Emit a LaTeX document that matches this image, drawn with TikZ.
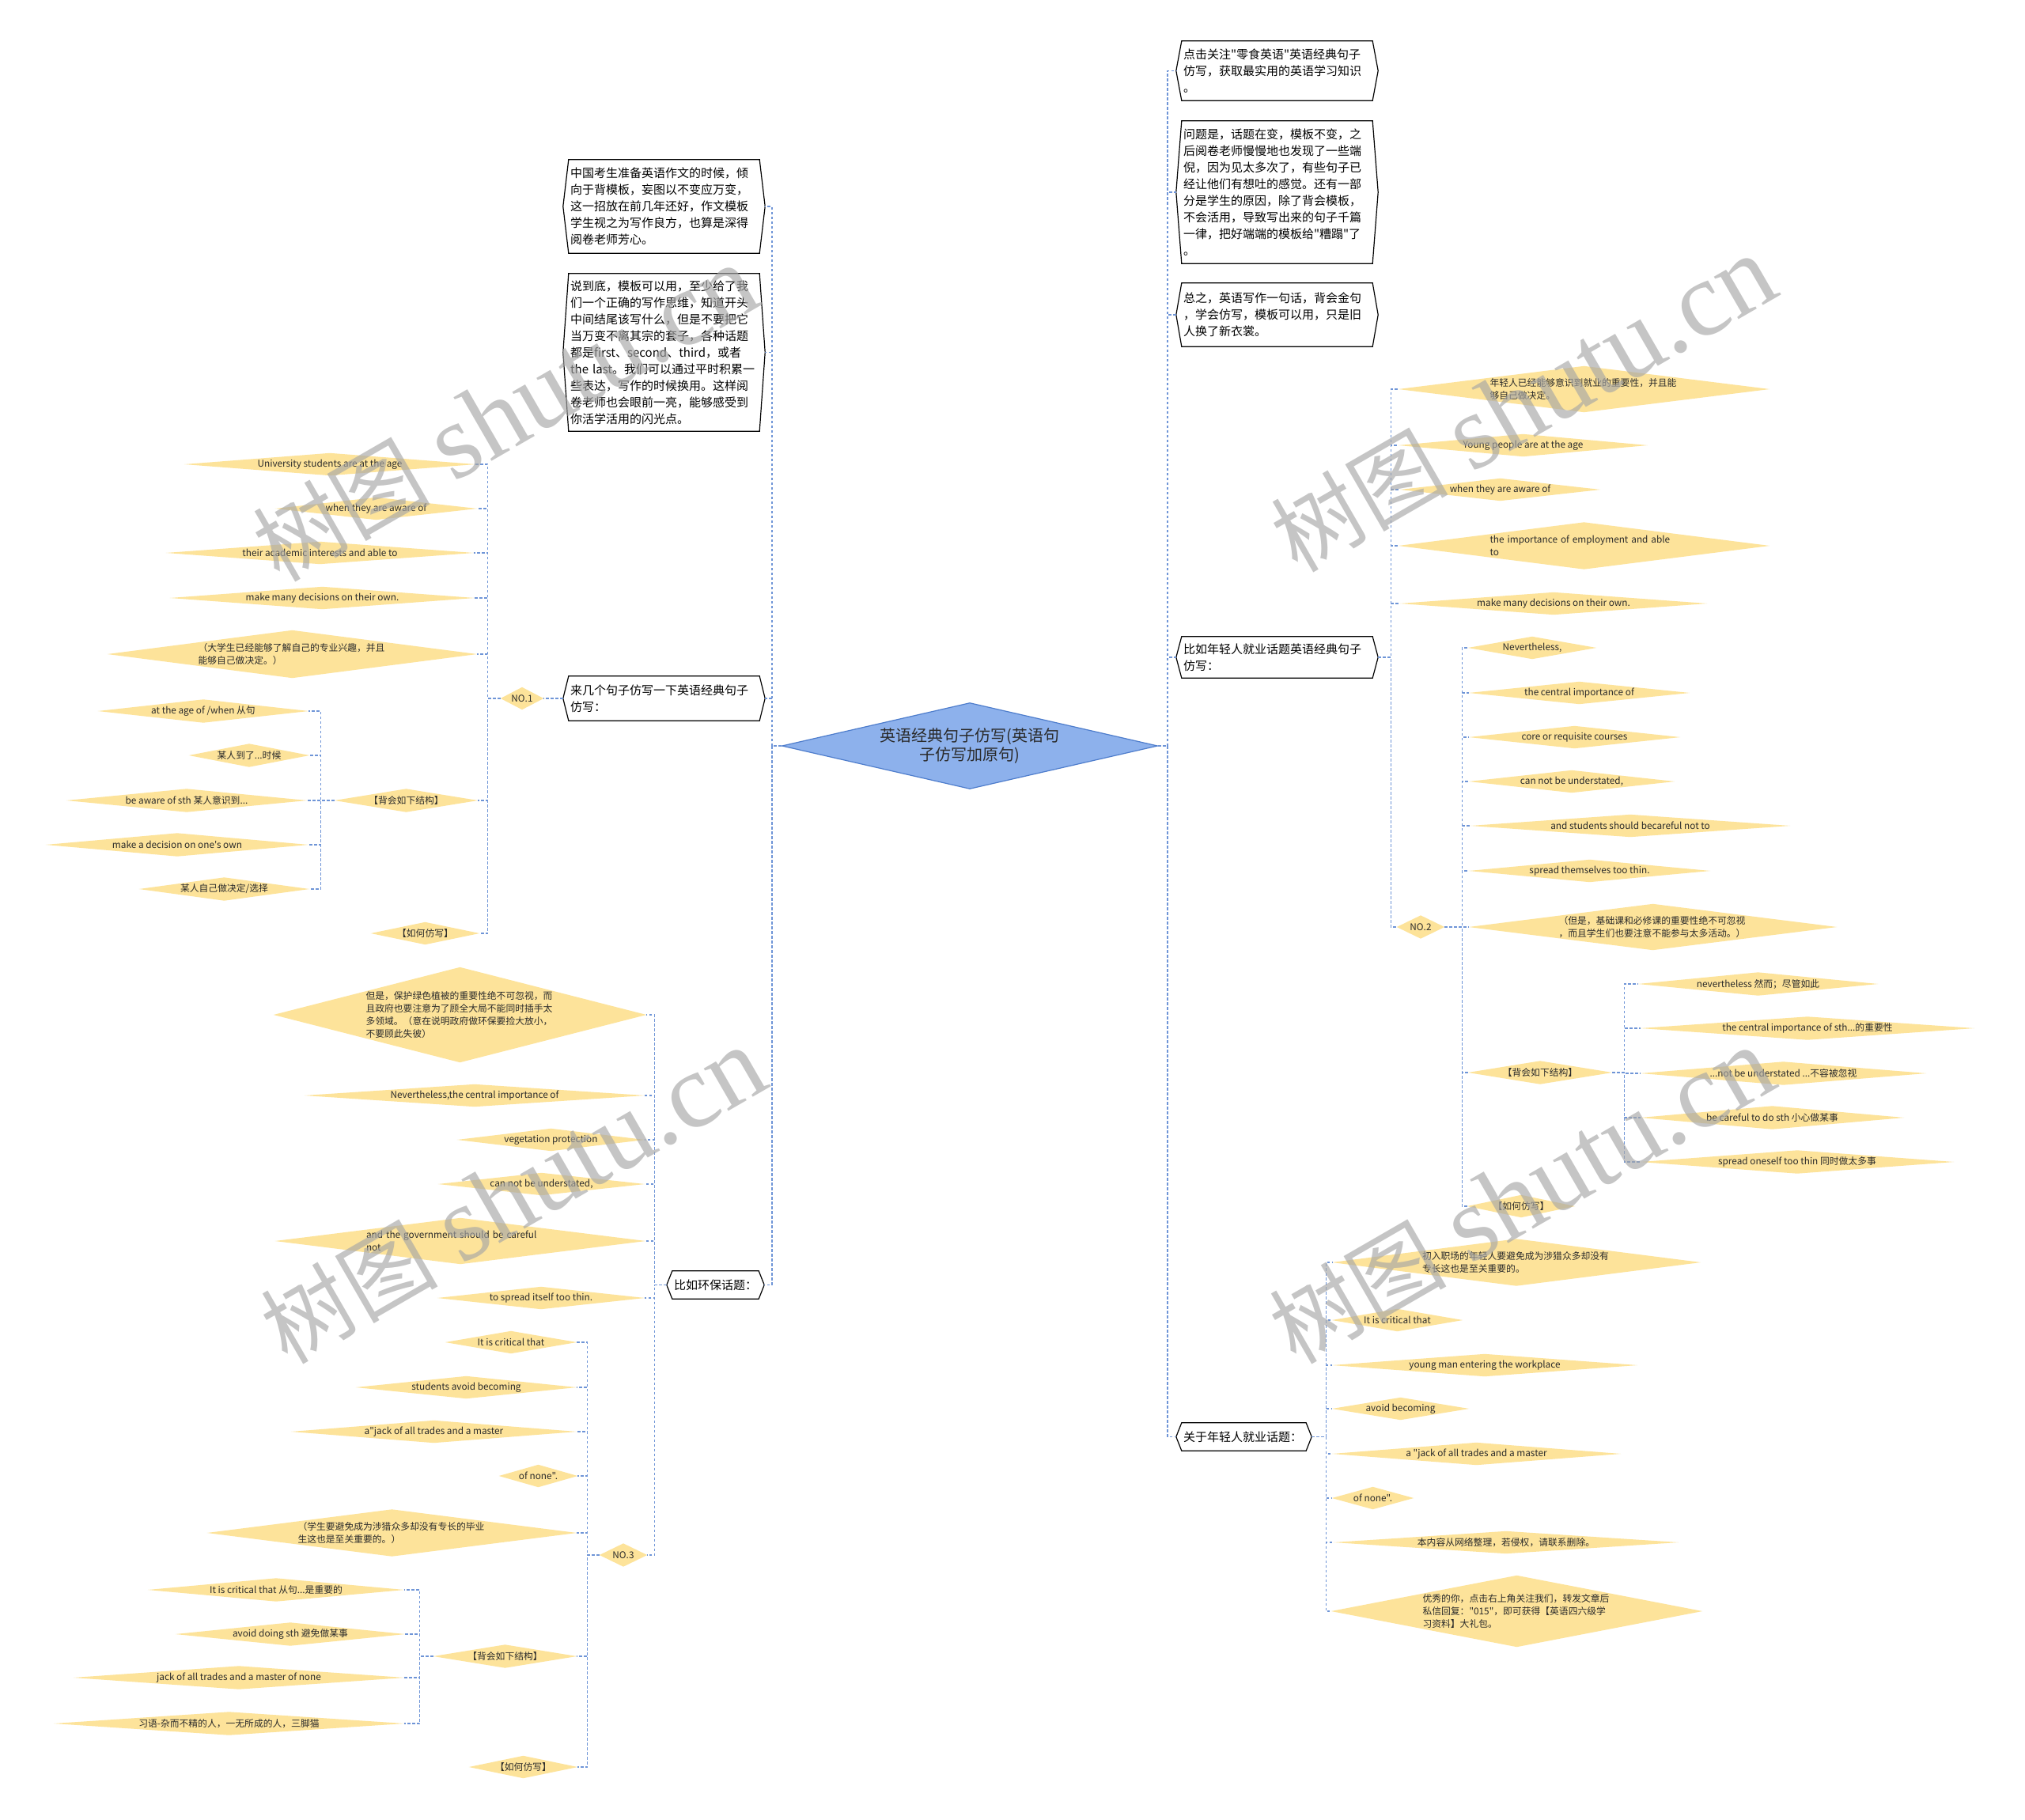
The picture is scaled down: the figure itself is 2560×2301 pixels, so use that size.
\documentclass[tikz,border=0pt]{standalone}
\usepackage{fontspec}
\setmainfont{Noto Sans CJK SC}[Ligatures=TeXOff]
\newfontfamily\wmserif{Liberation Serif}[Ligatures=TeXOff]
\usetikzlibrary{shapes.geometric,backgrounds}
\definecolor{ycol}{HTML}{FDE39A}
\definecolor{lnk}{HTML}{6F95D7}
\definecolor{rootfill}{HTML}{8DB1EC}
\definecolor{rootline}{HTML}{4E7DCC}
\definecolor{txtc}{HTML}{2A2A2A}
\tikzset{
  yd/.style={rectangle, inner sep=0pt, align=left, text=txtc, font=\fontsize{11.8pt}{15.8pt}\selectfont},
  hexb/.style={rectangle, inner sep=0pt, align=left, text=black, font=\fontsize{15pt}{21pt}\selectfont},
  hexline/.style={draw=black, line width=1.2pt, line join=miter},
  conn/.style={draw=lnk, line width=1.3pt, dash pattern=on 3.5pt off 2.5pt},
  wmc/.style={text=black!35, opacity=0.65, inner sep=0pt, rotate=30, anchor=base west, font=\fontsize{112pt}{112pt}\selectfont},
  wms/.style={wmc, font=\wmserif\fontsize{135pt}{135pt}\selectfont}
}
\newcommand\hexbox[6]{%
  \pgfmathsetmacro\hbw{#3-#2}%
  \pgfmathsetmacro\hbh{#5-#4}%
  \pgfmathsetmacro\hbt{#3-#2-18}%
  \pgfmathsetmacro\hbx{(#2+#3)/2}%
  \pgfmathsetmacro\hby{(#4+#5)/2}%
  \node[hexb, minimum width=\hbw pt, minimum height=\hbh pt, text width=\hbt pt] (#1) at (\hbx,\hby) {#6};
  \draw[hexline] ([xshift=7pt]#1.north west) -- ([xshift=-7pt]#1.north east) -- (#1.east) -- ([xshift=-7pt]#1.south east) -- ([xshift=7pt]#1.south west) -- (#1.west) -- cycle;}
\newcommand\dm[7][]{%
  \pgfmathsetmacro\dmw{#4-#3}%
  \pgfmathsetmacro\dmx{(#3+#4)/2}%
  \node[yd, minimum width=\dmw pt, minimum height=#6pt, #1] (#2) at (\dmx,#5) {#7};
  \begin{scope}[on background layer]
    \fill[ycol] (#2.west) -- (#2.north) -- (#2.east) -- (#2.south) -- cycle;
  \end{scope}}
\newcommand\lk[3]{\foreach \cn in {#3}{\draw[conn] (#1.west) -- ++(-#2,0) |- (\cn.east);}}
\newcommand\rk[3]{\foreach \cn in {#3}{\draw[conn] (#1.east) -- ++(#2,0) |- (\cn.west);}}
% watermark: #1 prefix, #2,#3 centre
\newcommand\wmark[3]{%
  \pgfmathsetmacro\wx{#2-286.6}%
  \pgfmathsetmacro\wy{#3+211.6}%
  \foreach \ch/\dd [count=\k] in {树/0,图/112}{%
    \node[wmc] (#1c\k) at ({\wx+0.866*\dd},{\wy-0.5*\dd}) {\ch};}
  \foreach \ch/\dd [count=\k] in {s/254,h/306.5,u/374,t/441.5,u/479,./546.5,c/580.25,n/640.25}{%
    \node[wms] (#1s\k) at ({\wx+0.866*\dd},{\wy-0.5*\dd}) {\ch};}}
\begin{document}
\begin{tikzpicture}[x=1pt,y=-1pt]
\useasboundingbox (0,0) rectangle (2560,2301);
\begin{scope}[on background layer]
  \fill[white] (0,0) rectangle (2560,2301);
\end{scope}

% root
\node[diamond, aspect=4.36, minimum width=475pt, minimum height=109pt, inner sep=0pt,
      fill=rootfill, draw=rootline, line width=1.2pt, align=center, text=txtc,
      font=\fontsize{20pt}{24pt}\selectfont] (root) at (1226,943) {英语经典句子仿写(英语句\\子仿写加原句)};

% left boxes
\hexbox{bA}{712}{967}{202}{320}{中国考生准备英语作文的时候，倾\\向于背模板，妄图以不变应万变，\\这一招放在前几年还好，作文模板\\学生视之为写作良方，也算是深得\\阅卷老师芳心。}
\hexbox{bB}{712}{967}{346}{545}{说到底，模板可以用，至少给了我\\们一个正确的写作思维，知道开头\\中间结尾该写什么，但是不要把它\\当万变不离其宗的套子，各种话题\\都是first、second、third，或者\\the last。我们可以通过平时积累一\\些表达，写作的时候换用。这样阅\\卷老师也会眼前一亮，能够感受到\\你活学活用的闪光点。}
\hexbox{bC}{712}{967}{855}{911}{来几个句子仿写一下英语经典句子\\仿写：}
\hexbox{bD}{843}{966}{1607}{1642}{比如环保话题：}

% right boxes
\hexbox{bE}{1487}{1742}{52}{127}{点击关注"零食英语"英语经典句子\\仿写，获取最实用的英语学习知识\\。}
\hexbox{bF}{1487}{1742}{153}{333}{问题是，话题在变，模板不变，之\\后阅卷老师慢慢地也发现了一些端\\倪，因为见太多次了，有些句子已\\经让他们有想吐的感觉。还有一部\\分是学生的原因，除了背会模板，\\不会活用，导致写出来的句子千篇\\一律，把好端端的模板给"糟蹋"了\\。}
\hexbox{bG}{1487}{1742}{358}{438}{总之，英语写作一句话，背会金句\\，学会仿写，模板可以用，只是旧\\人换了新衣裳。}
\hexbox{bH}{1487}{1742}{805}{857}{比如年轻人就业话题英语经典句子\\仿写：}
\hexbox{bI}{1487}{1658}{1799}{1834}{关于年轻人就业话题：}

% NO.1 group
\dm{no1}{633}{687}{883}{28}{NO.1}
\dm{l1a}{233}{601}{587}{28}{University students are at the age}
\dm{l1b}{348}{603}{643}{28}{when they are aware of}
\dm{l1c}{210}{599}{699}{28}{their academic interests and able to}
\dm{l1d}{215}{600}{756}{28}{make many decisions on their own.}
\dm[text width=238pt]{l1e}{136}{603}{827}{60}{（大学生已经能够了解自己的专业兴趣，并且\\能够自己做决定。）}
\dm{bh1}{423}{604}{1012}{29}{【背会如下结构】}
\dm{hw1}{469}{606}{1180}{28}{【如何仿写】}
\dm{s1a}{124}{390}{899}{29}{at the age of /when 从句}
\dm{s1b}{239}{391}{955}{29}{某人到了...时候}
\dm{s1c}{84}{388}{1012}{29}{be aware of sth 某人意识到...}
\dm{s1d}{58}{390}{1068}{29}{make a decision on one's own}
\dm{s1e}{176}{391}{1124}{29}{某人自己做决定/选择}

% environment group
\dm[text width=238pt]{e1}{346}{817}{1283}{120}{但是，保护绿色植被的重要性绝不可忽视，而\\且政府也要注意为了顾全大局不能同时插手太\\多领域。（意在说明政府做环保要捡大放小，\\不要顾此失彼）}
\dm{e2}{385}{815}{1385}{28}{Nevertheless,the central importance of}
\dm{e3}{578}{815}{1441}{28}{vegetation protection}
\dm{e4}{554}{815}{1497}{28}{can not be understated,}
\dm[text width=238pt]{e5}{348}{816}{1569}{58}{and the government should be careful\\not}
\dm{e6}{553}{815}{1641}{28}{to spread itself too thin.}
\dm{no3}{758}{818}{1966}{29}{NO.3}

% NO.3 group
\dm{n3a}{563}{729}{1697}{28}{It is critical that}
\dm{n3b}{450}{729}{1754}{28}{students avoid becoming}
\dm{n3c}{368}{729}{1810}{28}{a"jack of all trades and a master}
\dm{n3d}{631}{730}{1866}{28}{of none".}
\dm[text width=238pt]{n3e}{262}{729}{1938}{59}{（学生要避免成为涉猎众多却没有专长的毕业\\生这也是至关重要的。）}
\dm{bh3}{548}{729}{2094}{29}{【背会如下结构】}
\dm{hw3}{593}{730}{2234}{28}{【如何仿写】}
\dm{s3a}{187}{511}{2010}{29}{It is critical that 从句...是重要的}
\dm{s3b}{222}{512}{2066}{29}{avoid doing sth 避免做某事}
\dm{s3c}{93}{511}{2121}{29}{jack of all trades and a master of none}
\dm{s3d}{68}{511}{2179}{29}{习语-杂而不精的人，一无所成的人，三脚猫}

% right H group
\dm[text width=238pt]{r1}{1768}{2237}{492}{58}{年轻人已经能够意识到就业的重要性，并且能\\够自己做决定。}
\dm{r2}{1768}{2083}{563}{28}{Young people are at the age}
\dm{r3}{1770}{2023}{619}{28}{when they are aware of}
\dm[text width=238pt]{r4}{1768}{2237}{690}{59}{the importance of employment and able\\to}
\dm{r5}{1770}{2158}{763}{28}{make many decisions on their own.}
\dm{no2}{1766}{1826}{1172}{29}{NO.2}

% NO.2 group
\dm{m1}{1856}{2018}{819}{28}{Nevertheless,}
\dm{m2}{1857}{2136}{876}{28}{the central importance of}
\dm{m3}{1857}{2124}{932}{28}{core or requisite courses}
\dm{m4}{1857}{2117}{988}{28}{can not be understated,}
\dm{m5}{1859}{2263}{1044}{28}{and students should becareful not to}
\dm{m6}{1857}{2162}{1101}{28}{spread themselves too thin.}
\dm[text width=238pt]{m7}{1857}{2322}{1172}{58}{（但是，基础课和必修课的重要性绝不可忽视\\，而且学生们也要注意不能参与太多活动。）}
\dm{bh2}{1856}{2038}{1356}{29}{【背会如下结构】}
\dm{hw2}{1855}{1991}{1525}{28}{【如何仿写】}
\dm{t1}{2071}{2374}{1244}{29}{nevertheless 然而；尽管如此}
\dm{t2}{2074}{2496}{1300}{29}{the central importance of sth...的重要性}
\dm{t3}{2074}{2435}{1357}{29}{...not be understated ...不容被忽视}
\dm{t4}{2074}{2407}{1413}{29}{be careful to do sth 小心做某事}
\dm{t5}{2074}{2470}{1469}{29}{spread oneself too thin 同时做太多事}

% I group
\dm[text width=238pt]{u1}{1684}{2150}{1596}{59}{初入职场的年轻人要避免成为涉猎众多却没有\\专长这也是至关重要的。}
\dm{u2}{1684}{1849}{1669}{28}{It is critical that}
\dm{u3}{1684}{2070}{1726}{28}{young man entering the workplace}
\dm{u4}{1684}{1857}{1781}{28}{avoid becoming}
\dm{u5}{1684}{2049}{1838}{28}{a "jack of all trades and a master}
\dm{u6}{1684}{1787}{1894}{28}{of none".}
\dm{u7}{1686}{2122}{1950}{28}{本内容从网络整理，若侵权，请联系删除。}
\dm[text width=238pt]{u8}{1683}{2152}{2037}{90}{优秀的你，点击右上角关注我们，转发文章后\\私信回复："015"，即可获得【英语四六级学\\习资料】大礼包。}

% connectors
\lk{root}{12}{bA,bB,bC,bD}
\draw[conn] (bC.west) -- (no1.east);
\lk{no1}{16}{l1a,l1b,l1c,l1d,l1e,bh1,hw1}
\lk{bh1}{17}{s1a,s1b,s1c,s1d,s1e}
\lk{bD}{15}{e1,e2,e3,e4,e5,e6,no3}
\lk{no3}{15}{n3a,n3b,n3c,n3d,n3e,bh3,hw3}
\lk{bh3}{17}{s3a,s3b,s3c,s3d}
\rk{root}{12}{bE,bF,bG,bH,bI}
\rk{bH}{16}{r1,r2,r3,r4,r5,no2}
\rk{no2}{22}{m1,m2,m3,m4,m5,m6,m7,bh2,hw2}
\rk{bh2}{15}{t1,t2,t3,t4,t5}
\rk{bI}{18}{u1,u2,u3,u4,u5,u6,u7,u8}

% watermarks
\wmark{wmA}{640}{526}
\wmark{wmB}{650}{1515}
\wmark{wmC}{1927}{514}
\wmark{wmD}{1925}{1515}
\end{tikzpicture}
\end{document}
